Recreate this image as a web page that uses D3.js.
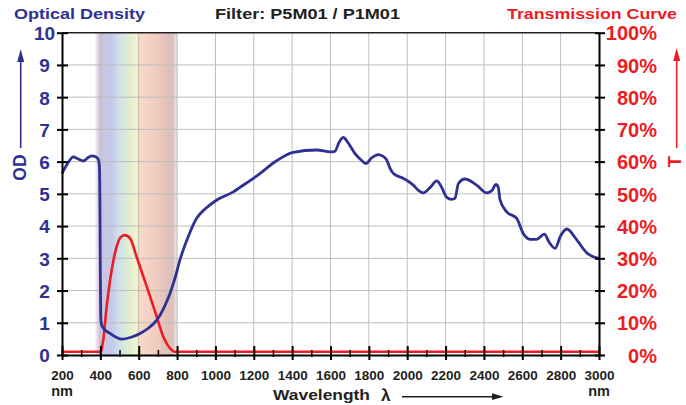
<!DOCTYPE html>
<html>
  <head>
    <title>Filter P5M01 / P1M01</title>
    <meta charset="utf-8">
    <script src="https://d3js.org/d3.v7.min.js"></script>
    <style>
      body { margin: 0; background: #fff; }
      text { font-family: "Liberation Sans", Arial, sans-serif; font-weight: bold; }
    </style>
  </head>
  <body>
  <div id="chart"></div>
  <script>
    // optical density curve (nm, OD)
    var odNm  = [200, 230, 259, 285, 311, 335, 355, 375, 389, 395, 398, 400, 402, 406, 415, 450, 480, 511, 560, 607,
                 650, 694, 730, 763, 790, 815, 860, 902, 950, 1007, 1093, 1128, 1232, 1300, 1406, 1528, 1600, 1623, 1645, 1667,
                 1690, 1728, 1760, 1785, 1815, 1849, 1870, 1893, 1910, 1928, 1980, 2032, 2060, 2084, 2120, 2154, 2180, 2205, 2232, 2249,
                 2267, 2301, 2362, 2414, 2440, 2463, 2475, 2484, 2519, 2571, 2605, 2640, 2675, 2715, 2740, 2771, 2800, 2832, 2884, 2936,
                 2970, 3000];
    var odVal = [5.63, 5.95, 6.15, 6.08, 6.02, 6.12, 6.18, 6.15, 6.07, 5.85, 4.5, 2.5, 1.2, 0.95, 0.84, 0.67, 0.56, 0.49, 0.55, 0.67,
                 0.83, 1.08, 1.45, 1.91, 2.4, 2.95, 3.7, 4.24, 4.55, 4.81, 5.06, 5.2, 5.63, 5.95, 6.29, 6.36, 6.3, 6.32, 6.6, 6.75,
                 6.6, 6.25, 6.05, 5.94, 6.12, 6.22, 6.18, 6.05, 5.8, 5.63, 5.48, 5.27, 5.1, 5.03, 5.2, 5.4, 5.2, 4.9, 4.83, 4.86,
                 5.32, 5.46, 5.27, 5.03, 5.09, 5.29, 5.2, 4.81, 4.44, 4.24, 3.77, 3.59, 3.59, 3.75, 3.5, 3.31, 3.7, 3.91, 3.57, 3.17,
                 3.05, 3.0];

    // transmission curve (nm, %)
    var tNm  = [200, 395, 405, 410, 415, 433, 459, 485, 505, 528, 555, 589, 642, 694, 728, 763, 789, 3000];
    var tVal = [1, 1, 1.3, 3, 4.6, 15, 26.4, 33.6, 36.5, 37.2, 36.2, 30.5, 21.2, 11.9, 5.7, 2.1, 1.0, 1.0];

    var xTicks = d3.range(200, 3001, 200);
    var xMinor = d3.range(300, 3000, 200);
    var odTicks = d3.range(0, 11);
    var tTicks = d3.range(0, 101, 10);

    var blue = '#2e3192', red = '#ed1c24', ink = '#231f20';

    var svg = d3.select('#chart').append('svg')
      .attr('width', 686)
      .attr('height', 405);

    var x = d3.scaleLinear().domain([200, 3000]).range([62, 599]);
    var yOD = d3.scaleLinear().domain([0, 10]).range([355, 32.7]);
    var yT = d3.scaleLinear().domain([0, 100]).range([355, 32.7]);

    // visible spectrum band
    var grad = svg.append('defs').append('linearGradient')
      .attr('id', 'spec')
      .attr('gradientUnits', 'userSpaceOnUse')
      .attr('x1', 95).attr('x2', 178).attr('y1', 0).attr('y2', 0);
    [[0, '#fbf7fb'], [0.04, '#e0cde2'], [0.08, '#c8c5e3'], [0.2, '#c5c9e7'], [0.28, '#cfdeef'],
     [0.36, '#d9e9d8'], [0.44, '#e6f0cf'], [0.5, '#f6f4cc'], [0.52, '#f8e2cb'], [0.56, '#f9d8c8'],
     [0.74, '#f1cbbf'], [0.86, '#e0c1bb'], [0.94, '#dac0bc'], [1, '#fbf6f5']].forEach(function(s) {
      grad.append('stop').attr('offset', s[0]).attr('stop-color', s[1]);
    });
    svg.append('rect')
      .attr('x', 95).attr('y', yOD(10))
      .attr('width', 83).attr('height', yOD(0) - yOD(10))
      .attr('fill', 'url(#spec)');

    // grid
    svg.append('g').selectAll('line')
      .data(xTicks.slice(1, -1))
      .enter().append('line')
      .attr('x1', function(d) { return x(d); }).attr('x2', function(d) { return x(d); })
      .attr('y1', yOD(10)).attr('y2', yOD(0))
      .attr('stroke', '#bdbdbd').attr('stroke-width', 1);
    svg.append('g').selectAll('line')
      .data(odTicks.slice(1, -1))
      .enter().append('line')
      .attr('x1', x(200)).attr('x2', x(3000))
      .attr('y1', function(d) { return yOD(d); }).attr('y2', function(d) { return yOD(d); })
      .attr('stroke', '#bdbdbd').attr('stroke-width', 1);

    // frame
    svg.append('line').attr('x1', x(200)).attr('x2', x(3000)).attr('y1', yOD(10)).attr('y2', yOD(10))
      .attr('stroke', '#222').attr('stroke-width', 1.5);

    // curves
    var odLine = d3.line()
      .x(function(d) { return x(d[0]); })
      .y(function(d) { return yOD(d[1]); })
      .curve(d3.curveMonotoneX);
    var tLine = d3.line()
      .x(function(d) { return x(d[0]); })
      .y(function(d) { return yT(d[1]); })
      .curve(d3.curveMonotoneX);

    svg.append('path')
      .datum(d3.zip(tNm, tVal))
      .attr('d', tLine)
      .attr('fill', 'none').attr('stroke', red).attr('stroke-width', 2.6);
    svg.append('path')
      .datum(d3.zip(odNm, odVal))
      .attr('d', odLine)
      .attr('fill', 'none').attr('stroke', blue).attr('stroke-width', 2.8);

    // bottom axis
    var gx = svg.append('g').attr('transform', 'translate(0,' + yOD(0) + ')')
      .call(d3.axisBottom(x).tickValues(xTicks).tickSize(0).tickFormat(d3.format('d')));
    gx.select('.domain').attr('stroke', '#000').attr('stroke-width', 2);
    gx.selectAll('.tick line').attr('y1', -9).attr('y2', 5).attr('stroke', '#000').attr('stroke-width', 2);
    gx.selectAll('.tick text').attr('y', 24.5).attr('dy', null)
      .attr('fill', ink).attr('font-size', 13.5).attr('font-family', null);
    var gm = svg.append('g').attr('transform', 'translate(0,' + yOD(0) + ')')
      .call(d3.axisBottom(x).tickValues(xMinor).tickSize(0).tickFormat(''));
    gm.select('.domain').remove();
    gm.selectAll('.tick line').attr('y1', -5).attr('y2', 2).attr('stroke', '#000').attr('stroke-width', 1.5);

    // left axis
    var gl = svg.append('g').attr('transform', 'translate(' + x(200) + ',0)')
      .call(d3.axisLeft(yOD).tickValues(odTicks).tickSize(0).tickFormat(d3.format('d')));
    gl.select('.domain').attr('stroke', '#000').attr('stroke-width', 2);
    gl.selectAll('.tick line').attr('x1', -5).attr('x2', 6).attr('stroke', '#000').attr('stroke-width', 2);
    gl.selectAll('.tick text').attr('x', -17.5).attr('dy', '0.36em').attr('text-anchor', 'middle')
      .attr('fill', blue).attr('font-size', 19).attr('font-family', null);

    // right axis
    var gr = svg.append('g').attr('transform', 'translate(' + x(3000) + ',0)')
      .call(d3.axisRight(yT).tickValues(tTicks).tickSize(0).tickFormat(function(d) { return d + '%'; }));
    gr.select('.domain').attr('stroke', '#000').attr('stroke-width', 2);
    gr.selectAll('.tick line').attr('x1', -4).attr('x2', 6).attr('stroke', '#000').attr('stroke-width', 2);
    gr.selectAll('.tick text').attr('x', 58).attr('dy', '0.36em').attr('text-anchor', 'end')
      .attr('fill', red).attr('font-size', 20).attr('font-family', null);

    // titles
    svg.append('text').attr('x', 14).attr('y', 19).attr('font-size', 15).attr('fill', blue)
      .attr('textLength', 131).attr('lengthAdjust', 'spacingAndGlyphs').text('Optical Density');
    svg.append('text').attr('x', 215).attr('y', 18.5).attr('font-size', 14).attr('fill', ink)
      .attr('textLength', 185).attr('lengthAdjust', 'spacingAndGlyphs').text('Filter: P5M01 / P1M01');
    svg.append('text').attr('x', 507).attr('y', 18.5).attr('font-size', 14.5).attr('fill', red)
      .attr('textLength', 170).attr('lengthAdjust', 'spacingAndGlyphs').text('Transmission Curve');

    // side labels with arrows
    function upArrow(cx, yTop, yBot, col) {
      svg.append('line').attr('x1', cx).attr('x2', cx).attr('y1', yTop + 8).attr('y2', yBot)
        .attr('stroke', col).attr('stroke-width', 1.6);
      svg.append('path')
        .attr('d', 'M' + cx + ',' + yTop + 'L' + (cx - 3.5) + ',' + (yTop + 13) + 'L' + (cx + 3.5) + ',' + (yTop + 13) + 'Z')
        .attr('fill', col);
    }
    upArrow(20.7, 49, 148, blue);
    svg.append('text').attr('transform', 'translate(26,167.5) rotate(-90)')
      .attr('text-anchor', 'middle').attr('font-size', 17.5).attr('fill', blue).text('OD');
    upArrow(676.7, 48, 148, red);
    svg.append('text').attr('transform', 'translate(680.5,161.7) rotate(-90)')
      .attr('text-anchor', 'middle').attr('font-size', 18.5).attr('fill', red).text('T');

    // bottom captions
    svg.append('text').attr('x', x(200)).attr('y', 395.5).attr('text-anchor', 'middle')
      .attr('font-size', 14.5).attr('fill', ink).text('nm');
    svg.append('text').attr('x', x(3000)).attr('y', 395.5).attr('text-anchor', 'middle')
      .attr('font-size', 14.5).attr('fill', ink).text('nm');
    svg.append('text').attr('x', 273).attr('y', 400).attr('font-size', 15).attr('fill', ink)
      .attr('textLength', 97).attr('lengthAdjust', 'spacingAndGlyphs').text('Wavelength');
    svg.append('text').attr('x', 381).attr('y', 401).attr('font-size', 17)
      .attr('font-family', '"DejaVu Serif", "Liberation Serif", serif').attr('font-weight', 'normal')
      .attr('fill', ink).text('λ');
    svg.append('line').attr('x1', 402).attr('x2', 495).attr('y1', 396.7).attr('y2', 396.7)
      .attr('stroke', ink).attr('stroke-width', 1.5);
    svg.append('path').attr('d', 'M503.5,396.7L492,393.3L492,400.1Z').attr('fill', ink);
  </script>
  </body>
</html>
